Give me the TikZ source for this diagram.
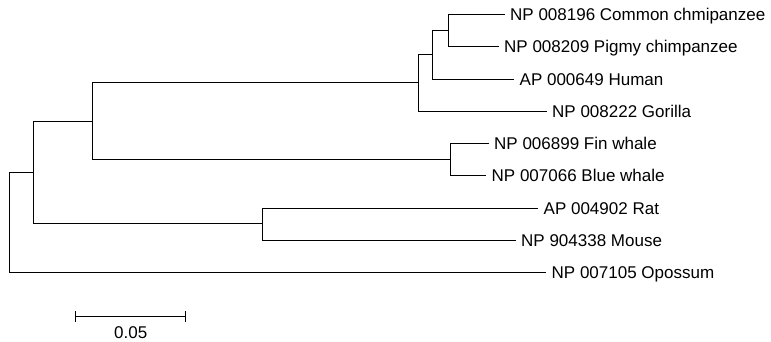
\documentclass[tikz,border=0pt]{standalone}
\usepackage{fontspec}
\setmainfont{Liberation Sans}
\begin{document}
\begin{tikzpicture}[x=1pt,y=-1pt,
  branch/.style={line width=1.1pt,black,line cap=rect},
  taxon/.style={anchor=west,inner sep=0pt,xshift=6pt,text height=12.1pt,text depth=0pt,font=\fontsize{17}{20}\selectfont},
  scalelbl/.style={anchor=center,inner sep=0pt,text height=12.1pt,text depth=0pt,font=\fontsize{17}{20}\selectfont}]
\useasboundingbox (0,0) rectangle (771,341);
% leaf ends
\coordinate (cc) at (504,14.5);
\coordinate (pc) at (498,46.5);
\coordinate (hu) at (513.5,79.5);
\coordinate (go) at (546,111.5);
\coordinate (fw) at (488,143.5);
\coordinate (bw) at (485.5,175.5);
\coordinate (ra) at (537.5,208.5);
\coordinate (mo) at (515,240.5);
\coordinate (op) at (545.5,272.5);
% internal nodes
\coordinate (chimps) at (448.5,30.5);
\coordinate (hc) at (432.5,54.5);
\coordinate (prim) at (418.5,82.5);
\coordinate (wh) at (450.5,159.5);
\coordinate (n2) at (92.5,121.5);
\coordinate (rod) at (262.5,223.5);
\coordinate (n1) at (33.5,172.5);
\coordinate (root) at (9.5,222.5);
% branches
\draw[branch] (chimps) |- (cc);
\draw[branch] (chimps) |- (pc);
\draw[branch] (hc) |- (chimps);
\draw[branch] (hc) |- (hu);
\draw[branch] (prim) |- (hc);
\draw[branch] (prim) |- (go);
\draw[branch] (wh) |- (fw);
\draw[branch] (wh) |- (bw);
\draw[branch] (n2) |- (prim);
\draw[branch] (n2) |- (wh);
\draw[branch] (rod) |- (ra);
\draw[branch] (rod) |- (mo);
\draw[branch] (n1) |- (n2);
\draw[branch] (n1) |- (rod);
\draw[branch] (root) |- (n1);
\draw[branch] (root) |- (op);
% labels
\node[taxon] (lcc) at (cc) {NP 008196 Common chmipanzee};
\node[taxon] (lpc) at (pc) {NP 008209 Pigmy chimpanzee};
\node[taxon] (lhu) at (hu) {AP 000649 Human};
\node[taxon] (lgo) at (go) {NP 008222 Gorilla};
\node[taxon] (lfw) at (fw) {NP 006899 Fin whale};
\node[taxon] (lbw) at (bw) {NP 007066 Blue whale};
\node[taxon] (lra) at (ra) {AP 004902 Rat};
\node[taxon] (lmo) at (mo) {NP 904338 Mouse};
\node[taxon] (lop) at (op) {NP 007105 Opossum};
% scale bar
\coordinate (sbl) at (75.5,316.5);
\coordinate (sbr) at (185.5,316.5);
\draw[branch] (sbl) -- (sbr);
\draw[branch] ([yshift=-4.5pt]sbl) -- ([yshift=4.5pt]sbl);
\draw[branch] ([yshift=-4.5pt]sbr) -- ([yshift=4.5pt]sbr);
\node[scalelbl] (sblabel) at (130.7,332.3) {0.05};
\end{tikzpicture}
\end{document}
